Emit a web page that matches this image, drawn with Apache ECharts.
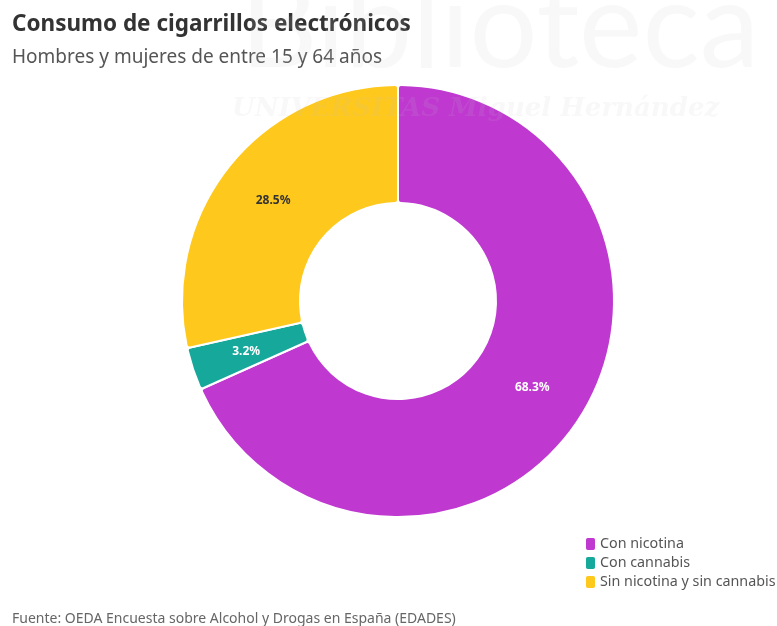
<!DOCTYPE html>
<html>
<head>
<meta charset="utf-8">
<script src="https://cdn.jsdelivr.net/npm/echarts@6/dist/echarts.min.js"></script>
<style>
  html, body { margin: 0; padding: 0; background: #fff; }
  #chart { width: 777px; height: 626px; }
</style>
</head>
<body>
<div id="chart"></div>
<script>
// datos
const categorias = ['Con nicotina', 'Con cannabis', 'Sin nicotina y sin cannabis'];
const valores = [68.3, 3.2, 28.5];
const colores = ['#bf38d0', '#16a99b', '#fec81d'];
const colorEtiqueta = ['#ffffff', '#ffffff', '#333333'];

const fuente = 'Noto Sans';
const chart = echarts.init(document.getElementById('chart'));

chart.setOption({
  backgroundColor: '#fff',
  title: [
    {
      text: 'Consumo de cigarrillos electrónicos',
      left: 12,
      top: 13,
      padding: 0,
      textStyle: { fontFamily: fuente, fontSize: 22.5, fontWeight: 'bold', color: '#333' },
    },
    {
      text: 'Hombres y mujeres de entre 15 y 64 años',
      left: 12,
      top: 48,
      padding: 0,
      textStyle: { fontFamily: fuente, fontSize: 19, fontWeight: 'normal', color: '#555' },
    },
    {
      text: 'Fuente: OEDA Encuesta sobre Alcohol y Drogas en España (EDADES)',
      left: 12,
      top: 612,
      padding: 0,
      textStyle: { fontFamily: fuente, fontSize: 14, fontWeight: 'normal', color: '#666' },
    },
  ],
  legend: {
    orient: 'vertical',
    left: 584,
    top: 536,
    padding: 0,
    itemWidth: 11,
    itemHeight: 14,
    itemGap: 3,
    icon: 'roundRect',
    textStyle: { fontFamily: fuente, fontSize: 14.3, color: '#555', padding: [0, 0, 0, -1] },
    data: categorias,
  },
  series: [
    {
      type: 'pie',
      center: [398, 301],
      radius: [98, 216],
      startAngle: 90,
      clockwise: true,
      avoidLabelOverlap: false,
      itemStyle: { borderColor: '#fff', borderWidth: 2, borderRadius: 3 },
      label: {
        show: true,
        position: 'inside',
        fontFamily: fuente,
        fontSize: 12,
        fontWeight: 'bold',
        formatter: (p) => p.value.toFixed(1) + '%',
      },
      labelLine: { show: false },
      emphasis: { disabled: true },
      data: categorias.map((c, i) => ({
        name: c,
        value: valores[i],
        itemStyle: { color: colores[i] },
        label: { color: colorEtiqueta[i] },
      })),
    },
  ],
  // marca de agua del escaneo
  graphic: [
    {
      type: 'text',
      left: 240,
      top: -32,
      z: 100,
      silent: true,
      style: { text: 'Biblioteca', fontFamily: 'Lato', fontSize: 120, fill: 'rgba(200,200,200,0.13)' },
    },
    {
      type: 'text',
      left: 232,
      top: 96,
      z: 100,
      silent: true,
      style: {
        text: 'UNIVERSITAS Miguel Hernández',
        fontFamily: 'DejaVu Serif',
        fontSize: 26,
        fontWeight: 'bold',
        fontStyle: 'italic',
        fill: 'rgba(200,200,200,0.12)',
      },
    },
  ],
});
</script>
</body>
</html>
